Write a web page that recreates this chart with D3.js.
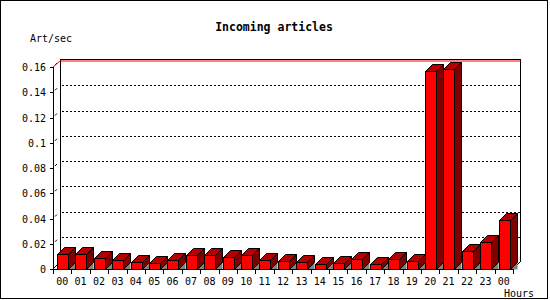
<!DOCTYPE html>
<html>
<head>
<meta charset="utf-8">
<script src="https://cdn.jsdelivr.net/npm/d3@7"></script>
<style>
  body { margin: 0; background: #fff; }
  svg { display: block; }
</style>
</head>
<body>
<svg id="svg"></svg>
<script>
const hours = ["00","01","02","03","04","05","06","07","08","09","10","11","12",
  "13","14","15","16","17","18","19","20","21","22","23","00"];
const artPerSec = [0.012, 0.012, 0.009, 0.007, 0.0055, 0.0047, 0.007, 0.011, 0.011,
  0.0095, 0.011, 0.007, 0.0063, 0.0055, 0.004, 0.0048, 0.008, 0.004, 0.008, 0.0062,
  0.157, 0.1585, 0.014, 0.0215, 0.039];
const yTicks = [0, 0.02, 0.04, 0.06, 0.08, 0.1, 0.12, 0.14, 0.16];
const yMax = 0.16;

const width = 550, height = 300;
const depth = 7;
const font = "'DejaVu Sans Mono', monospace";

const svg = d3.select("#svg")
  .attr("width", width)
  .attr("height", height)
  .attr("viewBox", [0, 0, width, height])
  .attr("font-family", font)
  .attr("font-size", 10);

// outer frame
svg.append("rect")
  .attr("x", 0.5).attr("y", 0.5)
  .attr("width", 547).attr("height", 298)
  .attr("fill", "#fff").attr("stroke", "#000");

const idx = d3.range(hours.length);
const x = d3.scaleBand().domain(idx).range([53, 513]).padding(0);
const y = d3.scaleLinear().domain([0, yMax]).range([269, 67]);

const left = 53, right = 513, y0 = y(0), yTop = y(yMax);

// title and axis captions
svg.append("text")
  .attr("x", 274).attr("y", 31)
  .attr("text-anchor", "middle")
  .attr("font-weight", "bold")
  .attr("font-size", 11.5)
  .text("Incoming articles");

svg.append("text")
  .attr("x", 30).attr("y", 42)
  .attr("font-size", 10)
  .text("Art/sec");

svg.append("text")
  .attr("x", 504).attr("y", 297)
  .attr("font-size", 10)
  .text("Hours");

// back wall grid
const grid = svg.append("g");
grid.selectAll("line.grid")
  .data(yTicks.filter(d => d > 0 && d < yMax))
  .join("line")
  .attr("x1", left + depth + 2).attr("x2", right + depth)
  .attr("y1", d => Math.round(y(d) - depth) + 0.5)
  .attr("y2", d => Math.round(y(d) - depth) + 0.5)
  .attr("stroke", "#000")
  .attr("stroke-dasharray", "2,2");

grid.selectAll("line.diag")
  .data(yTicks.filter(d => d > 0))
  .join("line")
  .attr("x1", left + 2).attr("y1", d => y(d) - 2)
  .attr("x2", left + 4).attr("y2", d => y(d) - 4)
  .attr("stroke", "#000");

// walls
const wall = svg.append("g").attr("fill", "none").attr("stroke", "#000");
wall.append("line")
  .attr("x1", left + depth + 0.5).attr("x2", left + depth + 0.5)
  .attr("y1", yTop - depth).attr("y2", y0 - depth);
wall.append("line")
  .attr("x1", right + depth + 0.5).attr("x2", right + depth + 0.5)
  .attr("y1", yTop - depth).attr("y2", y0 - depth);
wall.append("line")
  .attr("x1", left + depth).attr("x2", right + depth + 1)
  .attr("y1", yTop - depth - 0.5).attr("y2", yTop - depth - 0.5);
wall.append("line")
  .attr("x1", left).attr("y1", y0)
  .attr("x2", left + depth).attr("y2", y0 - depth);
wall.append("line")
  .attr("x1", right).attr("y1", y0)
  .attr("x2", right + depth).attr("y2", y0 - depth);

// max line (red)
svg.append("path")
  .attr("d", d3.line()([[left, yTop], [left + depth, yTop - depth + 1], [right + depth, yTop - depth + 1]]))
  .attr("fill", "none")
  .attr("stroke", "#ff0000");

// bars
const bw = 11, off = 4, bd = 7;
const bars = svg.append("g")
  .selectAll("g")
  .data(idx)
  .join("g")
  .attr("stroke", "#000")
  .attr("stroke-width", 1)
  .attr("stroke-linejoin", "miter");

bars.each(function(i) {
  const g = d3.select(this);
  const x1 = Math.round(x(i) + off) + 0.5;
  const x2 = x1 + bw;
  const yt = Math.round(y(artPerSec[i])) + 0.5;
  const yb = y0 + 0.5;
  // floor shadow
  g.append("path")
    .attr("d", d3.line()([[x2, yb], [x2 + bd, yb - bd], [x2 + bd, yb]]) + "Z")
    .attr("fill", "#808080").attr("stroke", "none");
  // side
  g.append("path")
    .attr("d", d3.line()([[x2, yt], [x2 + bd, yt - bd], [x2 + bd, yb - bd], [x2, yb]]) + "Z")
    .attr("fill", "#800000");
  // top
  g.append("path")
    .attr("d", d3.line()([[x1, yt], [x1 + bd, yt - bd], [x2 + bd, yt - bd], [x2, yt]]) + "Z")
    .attr("fill", "#b40000");
  // front
  g.append("rect")
    .attr("x", x1).attr("y", yt)
    .attr("width", bw).attr("height", yb - yt)
    .attr("fill", "#ff0000");
});

// front axes
const ax = svg.append("g").attr("stroke", "#000");
ax.append("line")
  .attr("x1", left + 0.5).attr("x2", left + 0.5)
  .attr("y1", yTop).attr("y2", y0 + 5);
ax.append("line")
  .attr("x1", left).attr("x2", right + 1)
  .attr("y1", y0 + 0.5).attr("y2", y0 + 0.5);

// y ticks and labels
const yAxis = svg.append("g");
yAxis.selectAll("line")
  .data(yTicks)
  .join("line")
  .attr("x1", left - 3).attr("x2", left)
  .attr("y1", d => Math.round(y(d)) + 0.5)
  .attr("y2", d => Math.round(y(d)) + 0.5)
  .attr("stroke", "#000");
yAxis.selectAll("text")
  .data(yTicks)
  .join("text")
  .attr("x", 46)
  .attr("y", d => y(d) + 4)
  .attr("text-anchor", "end")
  .text(d => d3.format("~g")(d));

// x ticks and labels
const xAxis = svg.append("g");
xAxis.selectAll("line")
  .data(d3.range(hours.length + 1))
  .join("line")
  .attr("x1", i => Math.round(left + i * x.bandwidth()) + 0.5)
  .attr("x2", i => Math.round(left + i * x.bandwidth()) + 0.5)
  .attr("y1", y0).attr("y2", y0 + 5)
  .attr("stroke", "#000");
xAxis.selectAll("text")
  .data(idx)
  .join("text")
  .attr("x", i => x(i) + x.bandwidth() / 2)
  .attr("y", 285)
  .attr("text-anchor", "middle")
  .text(i => hours[i]);
</script>
</body>
</html>
